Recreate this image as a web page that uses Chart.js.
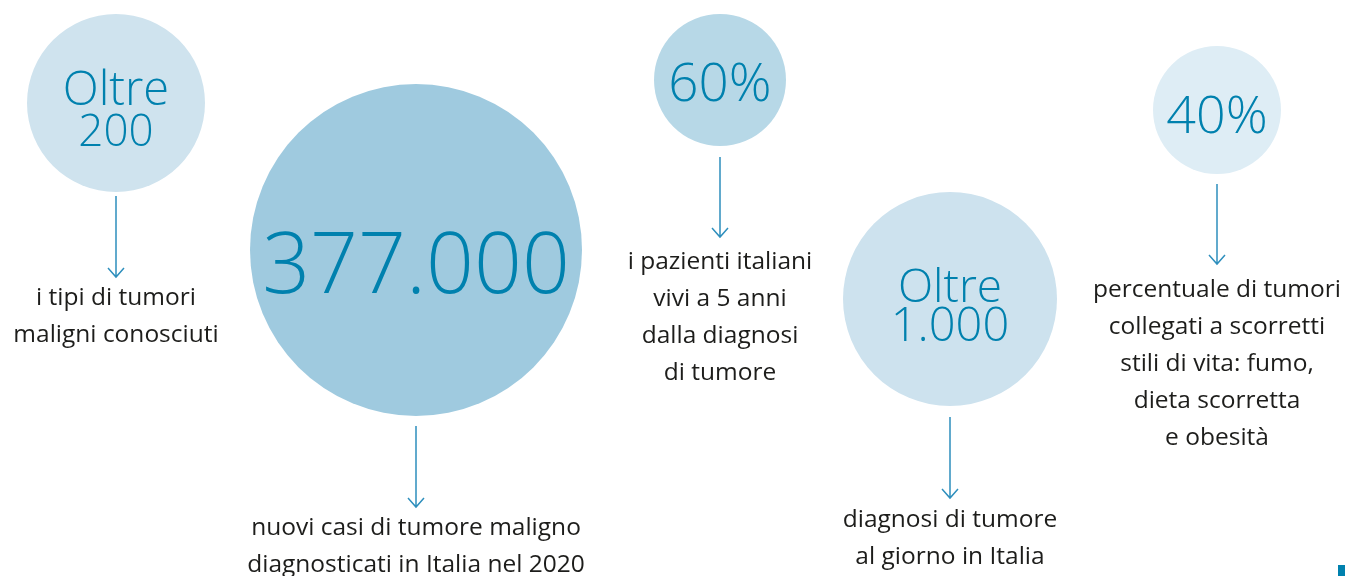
<!DOCTYPE html>
<html>
<head>
<meta charset="utf-8">
<script src="https://cdn.jsdelivr.net/npm/chart.js@4/dist/chart.umd.min.js"></script>
<style>
    html, body { margin: 0; padding: 0; background: #ffffff; }
    #wrap { width: 1345px; height: 576px; position: relative; }
</style>
</head>
<body>
<div id="wrap"><canvas id="infoChart"></canvas></div>
<script>
// ---- data ----
const values = [200, 377000, 60, 1000, 40];
const headlines = [["Oltre", "200"], ["377.000"], ["60%"], ["Oltre", "1.000"], ["40%"]];
const descriptions = [
    ["i tipi di tumori", "maligni conosciuti"],
    ["nuovi casi di tumore maligno", "diagnosticati in Italia nel 2020"],
    ["i pazienti italiani", "vivi a 5 anni", "dalla diagnosi", "di tumore"],
    ["diagnosi di tumore", "al giorno in Italia"],
    ["percentuale di tumori", "collegati a scorretti", "stili di vita: fumo,", "dieta scorretta", "e obesità"]
];

// ---- layout (pixels) ----
const bubbleX = [116, 416, 720, 950, 1217];
const bubbleY = [103, 250, 80, 299, 110];
const bubbleR = [89, 166, 66, 107, 64];
const bubbleColors = ["#cfe3ee", "#9fcadf", "#b7d8e7", "#cde2ee", "#deedf5"];
const headSizes = [[47, 44], [84], [53], [46, 47], [52]];
const headBaselines = [[105, 146], [293], [101], [302, 341], [133]];
const arrowTop = [196, 426, 157, 417, 184];
const arrowBottom = [277, 507, 237, 498, 264];
const descBaseline = [305, 535, 269, 527, 297];

const BLUE = "#0081ae";
const ARROW = "#2e8fbd";
const TEXT = "#1d1d1b";
const FONT = "'Open Sans', 'Noto Sans', sans-serif";

const infoPlugin = {
    id: "infoText",
    afterDatasetsDraw(chart) {
        const ctx = chart.ctx;
        const meta = chart.getDatasetMeta(0);
        const xs = chart.scales.x;
        const ys = chart.scales.y;

        ctx.save();
        meta.data.forEach((pt, i) => {
            const cx = pt.x;

            // headline inside the bubble
            ctx.fillStyle = BLUE;
            ctx.textAlign = "center";
            ctx.textBaseline = "alphabetic";
            headlines[i].forEach((line, j) => {
                ctx.font = `300 ${headSizes[i][j]}px ${FONT}`;
                ctx.fillText(line, cx, ys.getPixelForValue(headBaselines[i][j]));
            });

            // arrow
            const y0 = ys.getPixelForValue(arrowTop[i]);
            const y1 = ys.getPixelForValue(arrowBottom[i]);
            ctx.strokeStyle = ARROW;
            ctx.lineWidth = 1.5;
            ctx.beginPath();
            ctx.moveTo(cx, y0);
            ctx.lineTo(cx, y1);
            ctx.moveTo(cx - 8, y1 - 9);
            ctx.lineTo(cx, y1);
            ctx.lineTo(cx + 8, y1 - 9);
            ctx.stroke();

            // description
            ctx.fillStyle = TEXT;
            ctx.font = `24.5px ${FONT}`;
            descriptions[i].forEach((line, j) => {
                ctx.fillText(line, cx, ys.getPixelForValue(descBaseline[i] + j * 37));
            });
        });

        // little corner mark
        ctx.fillStyle = BLUE;
        ctx.fillRect(xs.getPixelForValue(1338), ys.getPixelForValue(565), 7, 11);
        ctx.restore();
    }
};

new Chart(document.getElementById("infoChart"), {
    type: "bubble",
    data: {
        datasets: [{
            label: "Tumori in Italia",
            data: values.map((v, i) => ({ x: bubbleX[i], y: bubbleY[i], r: bubbleR[i], v })),
            backgroundColor: bubbleColors,
            borderWidth: 0,
            hoverRadius: 0,
            clip: false
        }]
    },
    options: {
        responsive: true,
        maintainAspectRatio: false,
        animation: false,
        layout: { padding: 0, autoPadding: false },
        plugins: {
            legend: { display: false },
            tooltip: { enabled: false }
        },
        scales: {
            x: { type: "linear", min: 0, max: 1345, display: false },
            y: { type: "linear", min: 0, max: 576, reverse: true, display: false }
        }
    },
    plugins: [infoPlugin]
});
</script>
</body>
</html>
